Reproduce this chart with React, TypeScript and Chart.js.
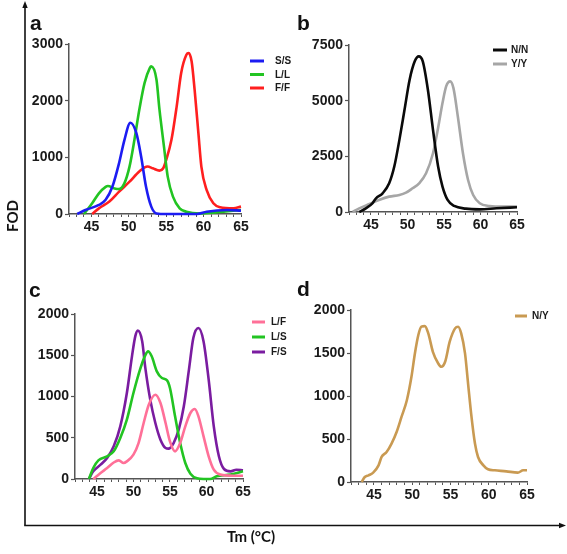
import React, { useEffect, useRef } from "react";
import { Chart, registerables } from "chart.js";

Chart.register(...registerables);

// ---------- Data (Tm in °C, FOD values) ----------
// Panel a
const SS_T = [43.1, 44.2, 46.0, 46.9, 47.8, 48.7, 49.4, 50.2, 51.0, 51.65, 52.3, 53.0, 53.7, 55, 59.1, 60.4, 63.1, 65];
const SS_V = [0, 70, 160, 250, 480, 900, 1300, 1610, 1430, 1010, 480, 130, 10, 0, 0, 40, 70, 60];
const LL_T = [44.0, 45.1, 46.0, 46.9, 47.2, 48.1, 48.7, 49.4, 50.1, 50.75, 51.4, 52.1, 52.8, 53.0, 53.7, 54.1, 54.7, 55.2, 55.9, 56.8, 57.7, 59.5, 61.8, 65];
const LL_V = [0, 190, 365, 480, 495, 450, 440, 540, 840, 1310, 1840, 2310, 2575, 2605, 2370, 1840, 1190, 660, 306, 100, 40, 10, 30, 70];
const FF_T = [45.1, 46.0, 47.4, 48.7, 50.1, 51.4, 52.5, 53.2, 54.1, 54.6, 55.0, 55.7, 56.4, 57.0, 57.7, 58.0, 58.4, 58.8, 59.3, 59.7, 60.4, 61.3, 62.2, 64.0, 65];
const FF_V = [0, 100, 220, 395, 570, 750, 837, 807, 766, 807, 955, 1310, 1900, 2490, 2810, 2840, 2690, 2190, 1430, 837, 425, 190, 120, 100, 130];
// Panel b
const NN_T = [43.4, 44.3, 45.2, 45.7, 46.6, 47.5, 48.2, 48.9, 49.6, 50.3, 51.0, 51.55, 52.1, 52.8, 53.5, 54.2, 54.8, 55.5, 56.4, 58.0, 59.9, 62.2, 65];
const NN_V = [0, 165, 390, 615, 840, 1290, 2040, 3240, 4590, 5940, 6765, 6990, 6765, 5490, 3690, 2040, 1140, 540, 270, 150, 120, 165, 210];
const YY_T = [42.5, 43.4, 44.8, 46.1, 47.5, 48.9, 49.8, 50.7, 51.6, 52.55, 53.5, 54.15, 54.8, 55.3, 55.85, 56.3, 56.9, 57.6, 58.3, 59.0, 59.9, 61.25, 63.1, 65];
const YY_V = [0, 165, 360, 540, 690, 765, 870, 1065, 1290, 1740, 2640, 3690, 4890, 5640, 5865, 5565, 4290, 2640, 1440, 765, 390, 270, 240, 240];
// Panel c
const LF_T = [44.5, 45.5, 46.4, 47.3, 48.0, 48.65, 49.1, 50.0, 50.7, 51.4, 52.1, 53.0, 53.7, 54.4, 55.0, 55.7, 56.4, 57.1, 57.8, 58.4, 58.9, 59.6, 60.3, 61.0, 61.9, 63.7, 65];
const LF_V = [0, 73, 133, 200, 226, 194, 214, 295, 436, 679, 900, 1022, 921, 679, 456, 335, 436, 638, 800, 848, 760, 517, 275, 113, 53, 40, 40];
const LS_T = [43.9, 44.5, 45.2, 46.4, 47.3, 48.2, 49.1, 50.0, 50.9, 51.6, 52.0, 52.5, 53.2, 53.9, 54.6, 55.0, 55.7, 56.4, 57.1, 57.8, 58.7, 59.6, 60.5, 61.4, 63.3, 65];
const LS_V = [0, 133, 226, 275, 335, 497, 719, 1042, 1325, 1495, 1547, 1487, 1305, 1224, 1196, 1103, 760, 436, 194, 65, 8, 0, 0, 32, 53, 93];
const FS_T = [43.9, 44.5, 45.5, 46.4, 47.3, 48.2, 49.1, 49.8, 50.25, 50.6, 51.2, 51.6, 52.3, 53.0, 53.7, 54.4, 54.8, 55.5, 56.2, 56.9, 57.6, 58.2, 58.9, 59.6, 60.3, 61.0, 61.7, 62.4, 63.3, 64.1, 65];
const FS_V = [0, 93, 174, 255, 396, 638, 1042, 1487, 1729, 1798, 1668, 1365, 962, 679, 477, 376, 368, 436, 598, 881, 1325, 1709, 1830, 1668, 1204, 638, 275, 121, 93, 113, 105];
// Panel d
const NY_T = [43.4, 43.8, 44.3, 44.9, 45.6, 46.0, 46.65, 47.3, 47.96, 48.6, 49.3, 49.9, 50.35, 50.8, 51.2, 51.65, 52.1, 52.7, 53.4, 53.8, 54.3, 54.9, 55.6, 56.0, 56.4, 56.9, 57.3, 57.7, 58.2, 58.6, 59.3, 59.9, 60.8, 62.3, 63.8, 64.5, 65];
const NY_V = [0, 58, 78, 109, 194, 291, 349, 447, 582, 757, 951, 1223, 1495, 1709, 1806, 1813, 1728, 1514, 1378, 1340, 1398, 1631, 1786, 1806, 1728, 1495, 1145, 796, 447, 291, 194, 148, 136, 124, 109, 136, 136];

const X_MIN = 42;
const X_MAX = 65;

const W = 567;
const H = 554;
const FONT = "'Liberation Sans', Arial, sans-serif";

type Series = { label: string; color: string; t: number[]; v: number[] };
type PanelCfg = {
  series: Series[];
  yMax: number;
  yStep: number;
  area: { left: number; right: number; top: number; bottom: number };
  legend: { lineX: number; lineLen: number; textX: number; y: number; gap: number };
};

const panels: PanelCfg[] = [
  {
    series: [
      { label: "S/S", color: "#1c1cf2", t: SS_T, v: SS_V },
      { label: "L/L", color: "#22c422", t: LL_T, v: LL_V },
      { label: "F/F", color: "#ff1f1f", t: FF_T, v: FF_V },
    ],
    yMax: 3000,
    yStep: 1000,
    area: { left: 69, right: 241, top: 44, bottom: 214 },
    legend: { lineX: 250, lineLen: 14, textX: 275, y: 61, gap: 13.5 },
  },
  {
    series: [
      { label: "N/N", color: "#0a0a0a", t: NN_T, v: NN_V },
      { label: "Y/Y", color: "#a6a6a6", t: YY_T, v: YY_V },
    ],
    yMax: 7500,
    yStep: 2500,
    area: { left: 349, right: 517, top: 45, bottom: 212 },
    legend: { lineX: 493, lineLen: 14, textX: 511, y: 50, gap: 14 },
  },
  {
    series: [
      { label: "L/F", color: "#ff7098", t: LF_T, v: LF_V },
      { label: "L/S", color: "#22c422", t: LS_T, v: LS_V },
      { label: "F/S", color: "#7a1ca0", t: FS_T, v: FS_V },
    ],
    yMax: 2000,
    yStep: 500,
    area: { left: 75, right: 243, top: 314, bottom: 479 },
    legend: { lineX: 252, lineLen: 13, textX: 271, y: 322, gap: 15 },
  },
  {
    series: [{ label: "N/Y", color: "#c99a52", t: NY_T, v: NY_V }],
    yMax: 2000,
    yStep: 500,
    area: { left: 351, right: 527, top: 310, bottom: 482 },
    legend: { lineX: 515, lineLen: 12, textX: 532, y: 316, gap: 14 },
  },
];

const legendPlugin = {
  id: "panelLegend",
  afterDraw(chart: any, _args: any, opts: any) {
    const ctx = chart.ctx;
    const items = opts.items || [];
    ctx.save();
    ctx.font = `bold 10px ${FONT}`;
    ctx.textBaseline = "middle";
    ctx.textAlign = "left";
    items.forEach((it: any, i: number) => {
      const y = opts.y + i * opts.gap;
      ctx.strokeStyle = it.color;
      ctx.lineWidth = 3;
      ctx.beginPath();
      ctx.moveTo(opts.lineX, y);
      ctx.lineTo(opts.lineX + opts.lineLen, y);
      ctx.stroke();
      ctx.fillStyle = "#1a1a1a";
      ctx.fillText(it.label, opts.textX, y + 0.5);
    });
    ctx.restore();
  },
};

const Y_AXIS_W = 40;
const X_AXIS_H = 26;

function Panel({ cfg }: { cfg: PanelCfg }) {
  const ref = useRef<HTMLCanvasElement | null>(null);
  useEffect(() => {
    if (!ref.current) return;
    const { area } = cfg;
    const chart = new Chart(ref.current, {
      type: "line",
      data: {
        datasets: cfg.series.map((s) => ({
          label: s.label,
          data: s.t.map((t, i) => ({ x: t, y: s.v[i] })),
          borderColor: s.color,
          backgroundColor: s.color,
          borderWidth: 2.6,
          pointRadius: 0,
          fill: false,
          cubicInterpolationMode: "monotone" as const,
          clip: false as any,
        })),
      },
      options: {
        responsive: false,
        animation: false,
        devicePixelRatio: 1,
        events: [],
        layout: {
          padding: {
            left: area.left - Y_AXIS_W,
            right: W - area.right,
            top: area.top,
            bottom: H - area.bottom - X_AXIS_H,
          },
        },
        scales: {
          x: {
            type: "linear",
            min: X_MIN,
            max: X_MAX,
            afterFit: (s: any) => {
              s.height = X_AXIS_H;
            },
            afterBuildTicks: (s: any) => {
              const arr = [];
              for (let v = X_MIN; v <= X_MAX; v++) arr.push({ value: v });
              s.ticks = arr;
            },
            ticks: {
              autoSkip: false,
              maxRotation: 0,
              padding: 2,
              color: "#1a1a1a",
              font: { family: FONT, weight: "bold", size: 14 },
              callback: (v: any) => (Number(v) % 5 === 0 ? String(v) : ""),
            },
            grid: {
              drawOnChartArea: false,
              drawTicks: true,
              tickLength: 3,
              tickColor: "#555",
              tickWidth: 1,
            },
            border: { color: "#555", width: 1.5 },
          },
          y: {
            type: "linear",
            min: 0,
            max: cfg.yMax,
            afterFit: (s: any) => {
              s.width = Y_AXIS_W;
            },
            ticks: {
              stepSize: cfg.yStep,
              padding: 2,
              color: "#1a1a1a",
              font: { family: FONT, weight: "bold", size: 14 },
              callback: (v: any) => String(v),
            },
            grid: {
              drawOnChartArea: false,
              drawTicks: true,
              tickLength: 4,
              tickColor: "#555",
              tickWidth: 1.2,
            },
            border: { color: "#555", width: 1.5 },
          },
        },
        plugins: {
          legend: { display: false },
          tooltip: { enabled: false },
          panelLegend: {
            items: cfg.series.map((s) => ({ label: s.label, color: s.color })),
            ...cfg.legend,
          },
        } as any,
      },
      plugins: [legendPlugin],
    });
    return () => chart.destroy();
  }, [cfg]);
  return (
    <canvas
      ref={ref}
      width={W}
      height={H}
      style={{ position: "absolute", left: 0, top: 0, width: W, height: H }}
    />
  );
}

const letterStyle: React.CSSProperties = {
  position: "absolute",
  fontFamily: FONT,
  fontWeight: "bold",
  fontSize: 21,
  lineHeight: "21px",
  color: "#111",
};

export default function App() {
  return (
    <div
      style={{
        position: "absolute",
        left: 0,
        top: 0,
        width: W,
        height: H,
        background: "#fff",
        overflow: "hidden",
      }}
    >
      <svg width={W} height={H} style={{ position: "absolute", left: 0, top: 0 }}>
        <line x1={25} y1={6} x2={25} y2={525.5} stroke="#111" strokeWidth={1.6} />
        <line x1={24.2} y1={525.5} x2={562} y2={525.5} stroke="#111" strokeWidth={1.6} />
        <polygon points="25,1 22.3,8 27.7,8" fill="#111" />
        <polygon points="566,525.5 559,522.8 559,528.2" fill="#111" />
      </svg>
      {panels.map((p, i) => (
        <Panel key={i} cfg={p} />
      ))}
      <div style={{ ...letterStyle, left: 30, top: 12 }}>a</div>
      <div style={{ ...letterStyle, left: 297, top: 12 }}>b</div>
      <div style={{ ...letterStyle, left: 29, top: 279 }}>c</div>
      <div style={{ ...letterStyle, left: 297, top: 278 }}>d</div>
      <div
        style={{
          position: "absolute",
          left: 12,
          top: 216,
          transform: "translate(-50%, -50%) rotate(-90deg)",
          fontFamily: "Lato, 'Open Sans', sans-serif",
          fontWeight: "bold",
          fontSize: 15,
          color: "#111",
          whiteSpace: "nowrap",
        }}
      >
        FOD
      </div>
      <div
        style={{
          position: "absolute",
          left: 251,
          top: 536,
          transform: "translate(-50%, -50%)",
          fontFamily: "Lato, 'Open Sans', sans-serif",
          fontWeight: "bold",
          fontSize: 15,
          color: "#111",
          whiteSpace: "nowrap",
        }}
      >
        Tm (°C)
      </div>
    </div>
  );
}
